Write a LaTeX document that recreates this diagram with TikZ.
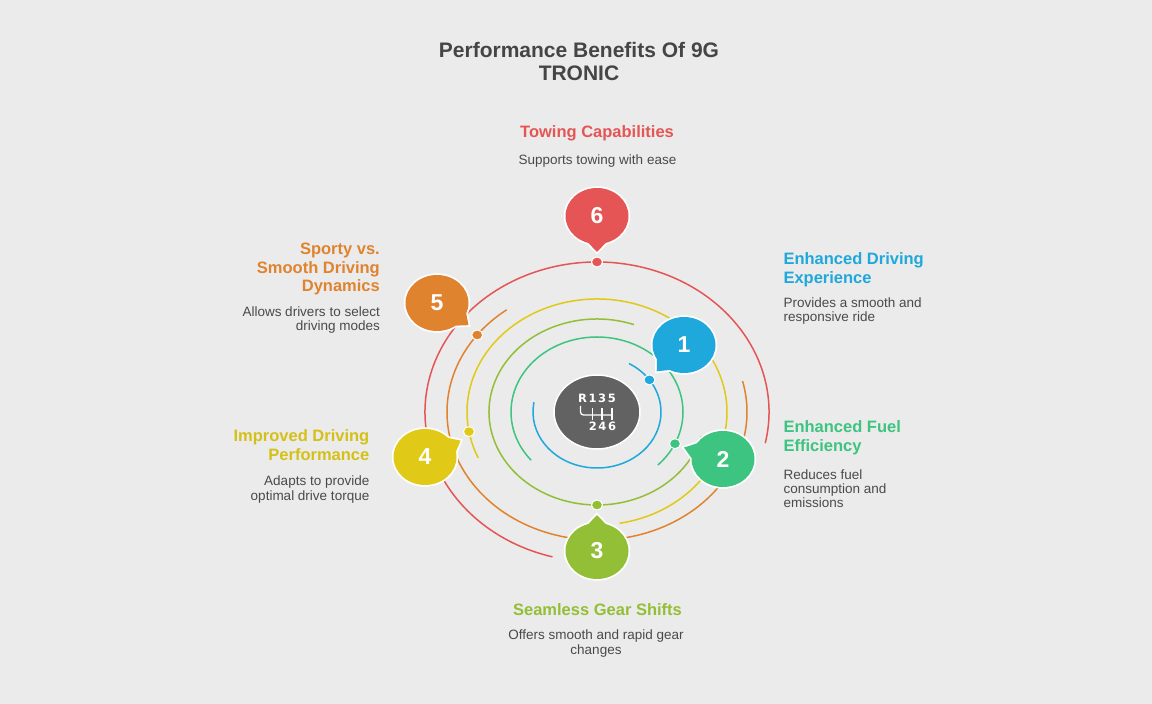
\documentclass[tikz,border=0pt]{standalone}
\usepackage{fontspec}
\setmainfont{Liberation Sans}
\newfontfamily\knobfont[LetterSpace=14]{DejaVu Sans}
\usetikzlibrary{calc}
\definecolor{bg}{HTML}{EBEBEB}
\definecolor{cblue}{HTML}{1EA8DB}
\definecolor{cteal}{HTML}{3CC480}
\definecolor{clime}{HTML}{93BF36}
\definecolor{cyellow}{HTML}{E0CA17}
\definecolor{corange}{HTML}{E0832E}
\definecolor{cred}{HTML}{E55555}
\definecolor{knob}{HTML}{626262}
\definecolor{txt}{HTML}{4A4A4A}
\definecolor{ttl}{HTML}{454545}
\begin{document}
\begin{tikzpicture}[x=1pt,y=1pt,
    ring/.style={line width=1.5pt},
    dotstyle/.style={draw=white,line width=1pt},
    bubble/.style={preaction={draw=white,line width=3.5pt}},
    num/.style={text=white,font=\fontsize{23}{23}\selectfont\bfseries,inner sep=0},
    head/.style={inner sep=0,font=\fontsize{16.5}{18.7}\selectfont\bfseries},
    desc/.style={inner sep=0,text=txt,font=\fontsize{13.5}{14.2}\selectfont}]
  \fill[bg] (0,0) rectangle (1152,704);
  \useasboundingbox (0,0) rectangle (1152,704);

  \coordinate (C) at (597,292);

  \draw[ring,cblue] (C) ++(170:64 and 56) arc[start angle=170,end angle=420,x radius=64,y radius=56];
  \draw[ring,cteal] (C) ++(-45:86 and 75) arc[start angle=-45,end angle=220,x radius=86,y radius=75];
  \draw[ring,clime] (C) ++(70:108 and 93) arc[start angle=70,end angle=345,x radius=108,y radius=93];
  \draw[ring,cyellow] (C) ++(280:130 and 113) arc[start angle=280,end angle=564,x radius=130,y radius=113];
  \draw[ring,corange] (C) ++(127:150 and 128) arc[start angle=127,end angle=374,x radius=150,y radius=128];
  \draw[ring,cred] (C) ++(-12:172 and 150) arc[start angle=-12,end angle=255,x radius=172,y radius=150];

  \coordinate (D1) at ($(C)+(35:64 and 56)$);
  \coordinate (D2) at ($(C)+(-25:86 and 75)$);
  \coordinate (D3) at ($(C)+(270:108 and 93)$);
  \coordinate (D4) at ($(C)+(190:130 and 113)$);
  \coordinate (D5) at ($(C)+(143:150 and 128)$);
  \coordinate (D6) at ($(C)+(90:172 and 150)$);

  \fill[cblue,dotstyle] (D1) circle[x radius=5.5,y radius=5];
  \fill[cteal,dotstyle] (D2) circle[x radius=5.5,y radius=5];
  \fill[clime,dotstyle] (D3) circle[x radius=5.5,y radius=5];
  \fill[cyellow,dotstyle] (D4) circle[x radius=5.5,y radius=5];
  \fill[corange,dotstyle] (D5) circle[x radius=5.5,y radius=5];
  \fill[cred,dotstyle] (D6) circle[x radius=5.5,y radius=5];

  \coordinate (B1) at (684,359);
  \coordinate (B2) at (723,245);
  \coordinate (B3) at (597,153);
  \coordinate (B4) at (425,247);
  \coordinate (B5) at (437,401);
  \coordinate (B6) at (597,488);

  \fill[cblue,bubble] (B1) ellipse[x radius=31.5,y radius=28]
    ($(B1)+(211:31.5 and 28)$) -- ($(B1)+(227:40 and 36)$) -- ($(B1)+(243:31.5 and 28)$) -- cycle;
  \fill[cteal,bubble] (B2) ellipse[x radius=31.5,y radius=28]
    ($(B2)+(146:31.5 and 28)$) -- ($(B2)+(162:41 and 37)$) -- ($(B2)+(178:31.5 and 28)$) -- cycle;
  \fill[clime,bubble] (B3) ellipse[x radius=31.5,y radius=28]
    ($(B3)+(74:31.5 and 28)$) -- ($(B3)+(90:39 and 36)$) -- ($(B3)+(106:31.5 and 28)$) -- cycle;
  \fill[cyellow,bubble] (B4) ellipse[x radius=31.5,y radius=28]
    ($(B4)+(11:31.5 and 28)$) -- ($(B4)+(27:40 and 36)$) -- ($(B4)+(43:31.5 and 28)$) -- cycle;
  \fill[corange,bubble] (B5) ellipse[x radius=31.5,y radius=28]
    ($(B5)+(-54:31.5 and 28)$) -- ($(B5)+(-38:40 and 36)$) -- ($(B5)+(-22:31.5 and 28)$) -- cycle;
  \fill[cred,bubble] (B6) ellipse[x radius=31.5,y radius=28]
    ($(B6)+(-106:31.5 and 28)$) -- ($(B6)+(-90:39 and 36)$) -- ($(B6)+(-74:31.5 and 28)$) -- cycle;

  \node[num] (n1) at (B1) {1};
  \node[num] (n2) at (B2) {2};
  \node[num] (n3) at (B3) {3};
  \node[num] (n4) at (B4) {4};
  \node[num] (n5) at (B5) {5};
  \node[num] (n6) at (B6) {6};

  \draw[fill=knob,draw=white,line width=1.5pt] (C) ellipse[x radius=43,y radius=37];
  \node[text=white,inner sep=0,font=\knobfont\fontsize{11.5}{11.5}\selectfont\bfseries] (R) at (597,306) {R135};
  \node[text=white,inner sep=0,font=\knobfont\fontsize{11.5}{11.5}\selectfont\bfseries] (G) at (602.5,277.5) {246};
  \draw[white,line width=1.3pt,rounded corners=3pt] (580.5,298) -- (580.5,289) -- (612,289);
  \draw[white,line width=1.3pt] (592.5,295.5) -- (592.5,283.5);
  \draw[white,line width=1.3pt] (602,295.5) -- (602,283.5);
  \draw[white,line width=1.3pt] (612,295.5) -- (612,283.5);

  \node[anchor=north,align=center,inner sep=0,text=ttl,font=\fontsize{21}{23.5}\selectfont\bfseries] (T) at (579,662.3) {Performance Benefits Of 9G\\TRONIC};

  \node[head,text=cred,anchor=north] (H6) at (597,578.5) {Towing Capabilities};
  \node[desc,anchor=north] (S6) at (597.5,549.7) {Supports towing with ease};

  \node[head,text=cblue,anchor=north west,align=left] (H1) at (783.3,451.3) {Enhanced Driving\\Experience};
  \node[desc,anchor=north west,align=left] (S1) at (783.3,406.7) {Provides a smooth and\\responsive ride};

  \node[head,text=cteal,anchor=north west,align=left] (H2) at (783.3,283.3) {Enhanced Fuel\\Efficiency};
  \node[desc,anchor=north west,align=left] (S2) at (783.3,234.7) {Reduces fuel\\consumption and\\emissions};

  \node[head,text=clime,anchor=north] (H3) at (597.5,100.7) {Seamless Gear Shifts};
  \node[desc,anchor=north,align=center] (S3) at (596,74) {Offers smooth and rapid gear\\changes};

  \node[head,text=cyellow!95!black,anchor=north east,align=right] (H4) at (369.5,274.7) {Improved Driving\\Performance};
  \node[desc,anchor=north east,align=right] (S4) at (369.5,228) {Adapts to provide\\optimal drive torque};

  \node[head,text=corange,anchor=north east,align=right] (H5) at (380,461.3) {Sporty vs.\\Smooth Driving\\Dynamics};
  \node[desc,anchor=north east,align=right] (S5) at (380,397.3) {Allows drivers to select\\driving modes};
\end{tikzpicture}
\end{document}
